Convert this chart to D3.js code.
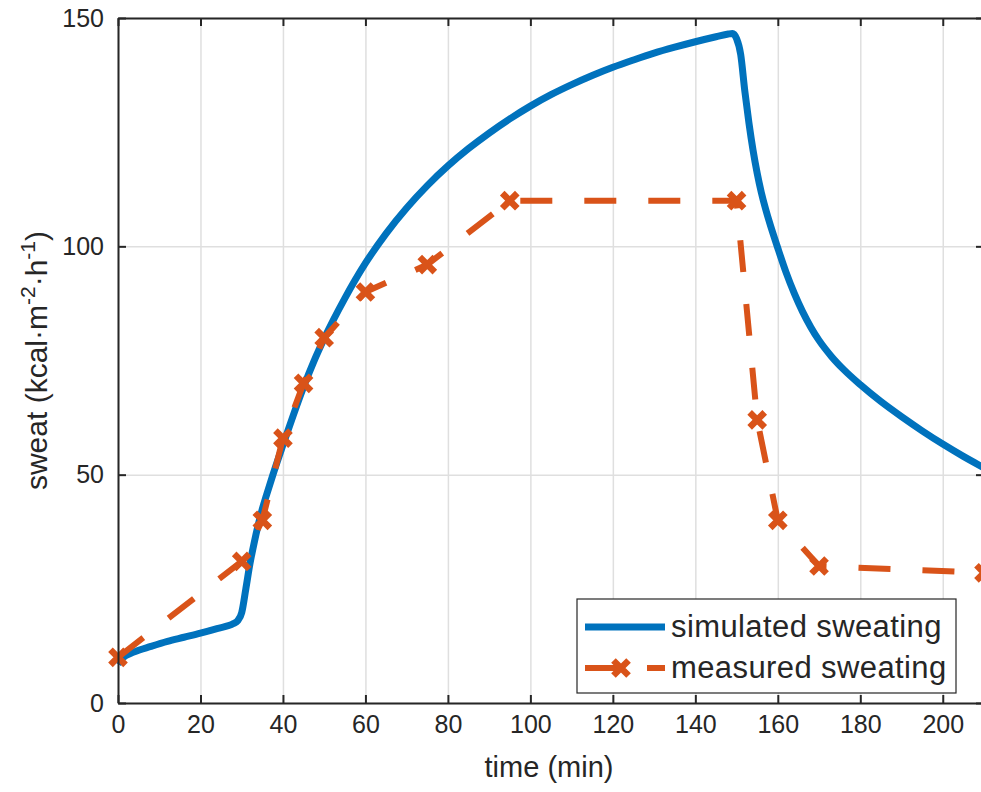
<!DOCTYPE html>
<html>
<head>
<meta charset="utf-8">
<script src="https://cdn.jsdelivr.net/npm/d3@7"></script>
<style>
  body { margin: 0; background: #fff; }
  svg { display: block; overflow: hidden; }
  text { font-family: "Liberation Sans", Arial, Helvetica, sans-serif; fill: #262626; }
  .axis path, .axis line { stroke: #262626; stroke-width: 2; }
  .grid line { stroke: #dfdfdf; stroke-width: 1.5; }
  .grid path { display: none; }
</style>
</head>
<body>
<svg id="chart"></svg>
<script>
// simulated sweating
const simTime = [0, 1, 4, 8, 12, 16, 20, 24, 28, 29, 30, 31, 32, 33, 34, 35, 36, 37.5, 40, 42.5, 45, 47.5, 50, 55, 60, 65, 70, 75, 80, 85, 90, 95, 100, 105, 110, 115, 120, 125, 130, 135, 140, 145, 148, 149, 150, 151, 152, 153, 154, 155, 156, 157, 158, 160, 162, 164, 166, 168, 170, 173, 176, 180, 185, 190, 195, 200, 205, 210];
const simSweat = [8.5, 9.8, 11.2, 12.4, 13.5, 14.4, 15.3, 16.3, 17.4, 18, 19.8, 25, 30.5, 35, 39, 42.5, 45.5, 49.8, 56.5, 63, 69.2, 74.8, 79.8, 88.6, 96.3, 102.8, 108.4, 113.3, 117.6, 121.4, 124.8, 127.9, 130.7, 133.2, 135.4, 137.4, 139.2, 140.8, 142.3, 143.6, 144.8, 145.9, 146.5, 146.6, 145.5, 142, 134, 127, 121, 116, 111.8, 108.3, 105.2, 99.6, 94.3, 89.7, 85.7, 82.3, 79.4, 75.9, 73, 69.7, 66, 62.7, 59.6, 56.7, 54, 51.5];

// measured sweating
const measTime = [0, 30, 35, 40, 45, 50, 60, 75, 95, 150, 155, 160, 170, 210];
const measSweat = [10, 31, 40, 58, 70, 80, 90, 96, 110, 110, 62, 40, 30, 28.5];

const xTicks = [0, 20, 40, 60, 80, 100, 120, 140, 160, 180, 200];
const yTicks = [0, 50, 100, 150];
const seriesNames = ['simulated sweating', 'measured sweating'];
const colors = ['#0072BD', '#D95319'];

const W = 981, H = 792;
const margin = { top: 18, left: 118, bottom: 89 };
const plotRight = 984;

const svg = d3.select('#chart').attr('width', W).attr('height', H);

const x = d3.scaleLinear().domain([0, 210]).range([margin.left, plotRight]);
const y = d3.scaleLinear().domain([0, 150]).range([H - margin.bottom, margin.top]);

// grid
svg.append('g').attr('class', 'grid')
  .attr('transform', `translate(0,${y(0)})`)
  .call(d3.axisBottom(x).tickValues(xTicks).tickSize(-(y(0) - y(150))).tickFormat(''));
svg.append('g').attr('class', 'grid')
  .attr('transform', `translate(${x(0)},0)`)
  .call(d3.axisLeft(y).tickValues(yTicks).tickSize(-(plotRight - x(0))).tickFormat(''));

// lines
const simData = simTime.map((t, i) => ({ t: t, v: simSweat[i] }));
const measData = measTime.map((t, i) => ({ t: t, v: measSweat[i] }));
const smooth = d3.line().x(d => x(d.t)).y(d => y(d.v)).curve(d3.curveMonotoneX);
const line = d3.line().x(d => x(d.t)).y(d => y(d.v));

svg.append('path')
  .datum(simData)
  .attr('fill', 'none')
  .attr('stroke', colors[0])
  .attr('stroke-width', 7)
  .attr('stroke-linejoin', 'round')
  .attr('d', smooth);

svg.append('path')
  .datum(measData)
  .attr('fill', 'none')
  .attr('stroke', colors[1])
  .attr('stroke-width', 6)
  .attr('stroke-dasharray', '32,32')
  .attr('stroke-linejoin', 'round')
  .attr('d', line);

const cross = d3.symbol().type(d3.symbolTimes).size(150);
svg.selectAll('.mark')
  .data(measData)
  .join('path')
  .attr('class', 'mark')
  .attr('transform', d => `translate(${x(d.t)},${y(d.v)})`)
  .attr('d', cross)
  .attr('fill', 'none')
  .attr('stroke', colors[1])
  .attr('stroke-width', 6.5);

// axes
const bottom = svg.append('g').attr('class', 'axis')
  .attr('transform', `translate(0,${y(0)})`)
  .call(d3.axisBottom(x).tickValues(xTicks).tickSize(-8).tickSizeOuter(0).tickPadding(12));
bottom.selectAll('text').style('font-size', '25px');

svg.append('g').attr('class', 'axis')
  .attr('transform', `translate(0,${y(150)})`)
  .call(d3.axisTop(x).tickValues(xTicks).tickSize(-8).tickSizeOuter(0).tickFormat(''));

const left = svg.append('g').attr('class', 'axis')
  .attr('transform', `translate(${x(0)},0)`)
  .call(d3.axisLeft(y).tickValues(yTicks).tickSize(-8).tickSizeOuter(0).tickPadding(14));
left.selectAll('text').style('font-size', '25px');

svg.append('g').attr('class', 'axis')
  .attr('transform', `translate(${plotRight},0)`)
  .call(d3.axisRight(y).tickValues(yTicks).tickSize(-8).tickSizeOuter(0).tickFormat(''));

// axis labels
svg.append('text')
  .attr('x', 549)
  .attr('y', 777)
  .attr('text-anchor', 'middle')
  .style('font-size', '29px')
  .text('time (min)');

const yl = svg.append('text')
  .attr('transform', `translate(47,${(y(0) + y(150)) / 2}) rotate(-90)`)
  .attr('text-anchor', 'middle')
  .style('font-size', '30px');
yl.append('tspan').text('sweat (kcal·m');
yl.append('tspan').attr('dy', -12).style('font-size', '21px').text('-2');
yl.append('tspan').attr('dy', 12).text('·h');
yl.append('tspan').attr('dy', -12).style('font-size', '21px').text('-1');
yl.append('tspan').attr('dy', 12).text(')');

// legend
const lg = svg.append('g').attr('transform', 'translate(577,599)');
lg.append('rect')
  .attr('width', 379).attr('height', 94)
  .attr('fill', '#fff')
  .attr('stroke', '#262626')
  .attr('stroke-width', 1.2);

seriesNames.forEach((name, i) => {
  const ly = 28 + i * 41;
  lg.append('line')
    .attr('x1', 8).attr('x2', 88)
    .attr('y1', ly).attr('y2', ly)
    .attr('stroke', colors[i])
    .attr('stroke-width', i === 0 ? 7 : 6)
    .attr('stroke-dasharray', i === 0 ? null : '34,28');
  if (i === 1) {
    lg.append('path')
      .attr('transform', `translate(44,${ly})`)
      .attr('d', cross)
      .attr('fill', 'none')
      .attr('stroke', colors[1])
      .attr('stroke-width', 6.5);
  }
  lg.append('text')
    .attr('x', 94)
    .attr('y', ly + 10)
    .style('font-size', '31px')
    .style('letter-spacing', '0.4px')
    .text(name);
});
</script>
</body>
</html>
